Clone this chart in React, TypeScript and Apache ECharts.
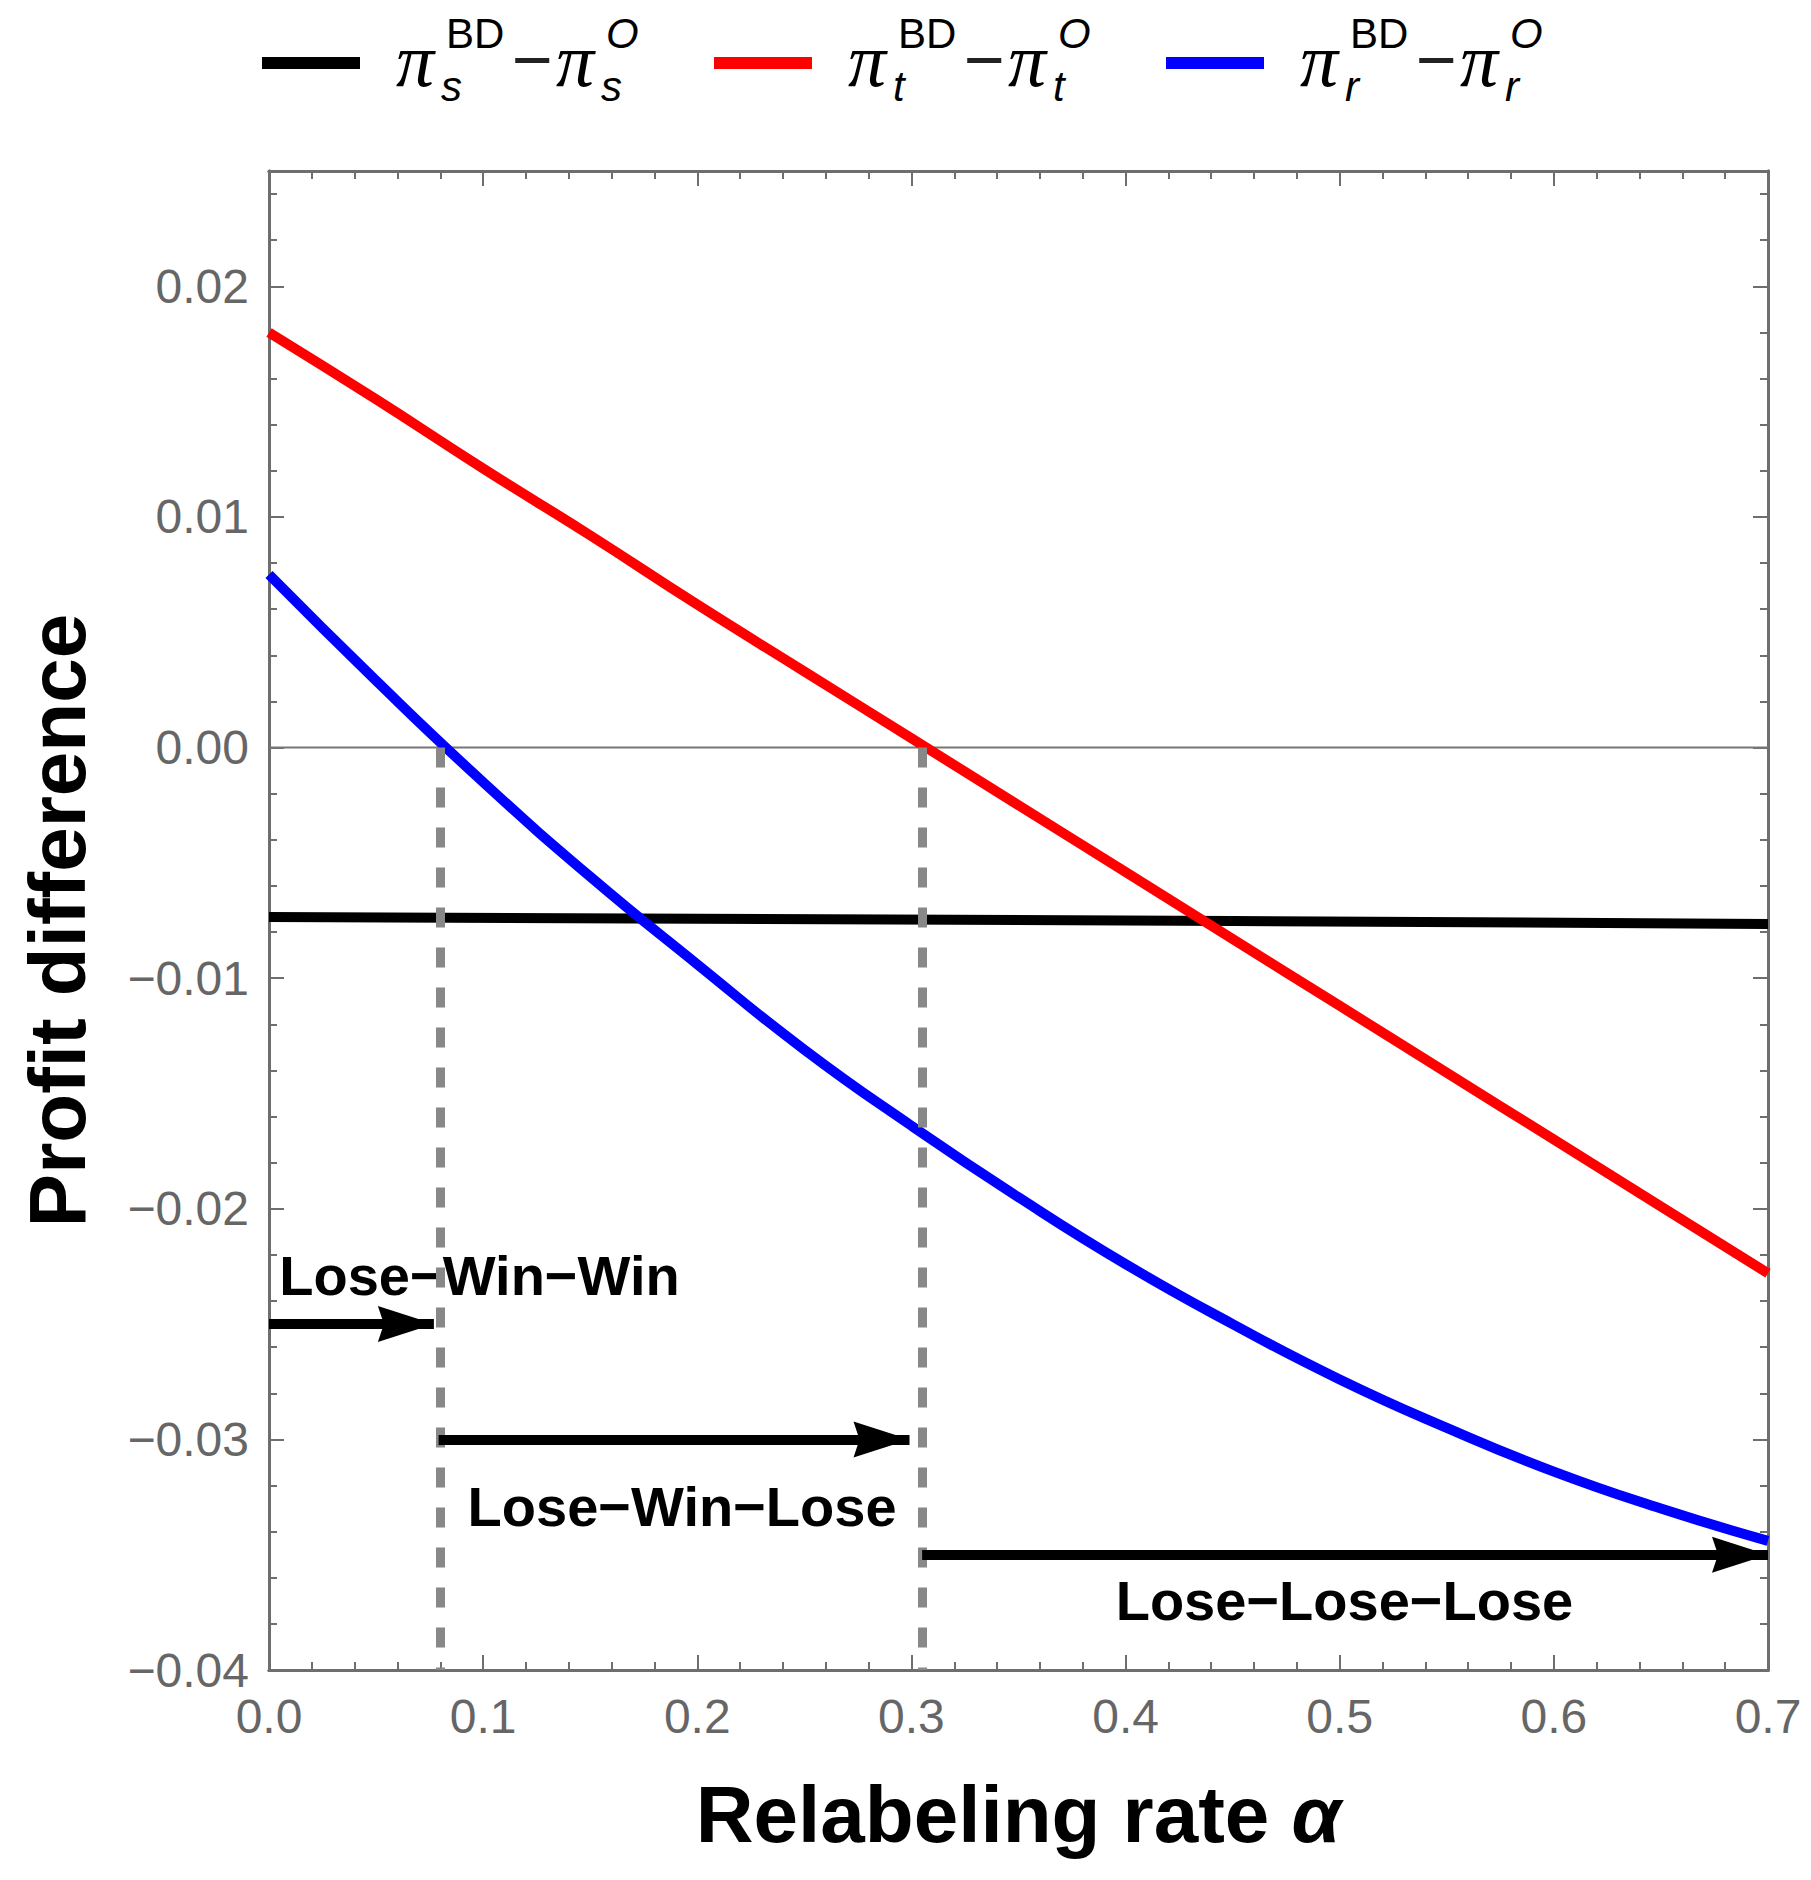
import React, { useEffect, useRef } from "react";
import * as echarts from "echarts";

// ---- data ----
const alphaGrid = [0, 0.05, 0.1, 0.15, 0.2, 0.25, 0.3, 0.35, 0.4, 0.45, 0.5, 0.55, 0.6, 0.65, 0.7];
const thirdPartyDiff = [0.018, 0.0151, 0.0121, 0.0092, 0.0062, 0.0033, 0.0004, -0.0025, -0.0054, -0.0083, -0.0112, -0.0141, -0.017, -0.0199, -0.0228];
const retailerDiff = [0.0075, 0.0029, -0.0015, -0.0056, -0.0094, -0.0131, -0.0164, -0.0195, -0.0224, -0.025, -0.0274, -0.0295, -0.0314, -0.033, -0.0344];
const supplierAlpha = [0, 0.2, 0.45, 0.7];
const supplierDiff = [-0.00735, -0.00742, -0.00752, -0.00765];

const thresholds = [0.08, 0.305];
const arrowStartX = [0, 0.0792, 0.305];
const arrowEndX = [0.077, 0.2991, 0.7];
const arrowY = [-0.025, -0.03, -0.035];
const annotationLabels = ["Lose\u2212Win\u2212Win", "Lose\u2212Win\u2212Lose", "Lose\u2212Lose\u2212Lose"];
const annotationX = [0.0983, 0.1929, 0.5022];
const annotationY = [-0.0229, -0.0329, -0.037];

const legendColors = ["#000000", "#ff0000", "#0000ff"];
const legendSubs = ["s", "t", "r"];

const xMin = 0, xMax = 0.7, xStep = 0.1, xMinorStep = 0.02;
const yMin = -0.04, yMax = 0.025, yStep = 0.01, yMinorStep = 0.002;

const SANS = "'Liberation Sans', Arial, sans-serif";
const SERIF = "'Liberation Serif', 'Times New Roman', serif";
const FRAME = "#6e6e6e";
const ARROW_HEAD = "path://M18,0 L36,56 L18,50 L0,56 Z";

function legendGraphic() {
  const els: any[] = [];
  legendColors.forEach((c, i) => {
    const x0 = 262 + i * 452;
    els.push({ type: "rect", shape: { x: x0, y: 57, width: 98, height: 12 }, style: { fill: c } });
    const addPi = (dx: number, sup: string) => {
      els.push({ type: "text", x: x0 + dx, y: 60, style: { text: "\u03c0", font: `italic 76px ${SERIF}`, fill: "#000", verticalAlign: "middle", align: "left" } });
      els.push({ type: "text", x: x0 + dx + 45, y: 86, style: { text: legendSubs[i], font: `italic 42px ${SANS}`, fill: "#000", verticalAlign: "middle", align: "left" } });
      els.push({ type: "text", x: x0 + dx + 50, y: 33, style: { text: sup, font: `${sup === "O" ? "italic " : ""}42px ${SANS}`, fill: "#000", verticalAlign: "middle", align: "left" } });
    };
    addPi(134, "BD");
    els.push({ type: "text", x: x0 + 250, y: 60, style: { text: "\u2212", font: `70px ${SANS}`, fill: "#222", verticalAlign: "middle", align: "left" } });
    addPi(294, "O");
  });
  return els;
}

const lineStyleFrame = { color: FRAME, width: 3 };

function makeX(position: string, labels: boolean, minor: boolean) {
  return {
    type: "value", position, min: xMin, max: xMax, interval: minor ? xMinorStep : xStep,
    axisLine: { show: true, onZero: false, lineStyle: lineStyleFrame },
    axisTick: { show: true, inside: true, length: minor ? 8 : 15, lineStyle: { color: FRAME, width: 2 } },
    axisLabel: labels
      ? { show: true, margin: 22, fontSize: 48, color: "#666", fontFamily: SANS, formatter: (v: number) => v.toFixed(1) }
      : { show: false },
    splitLine: { show: false },
    ...(labels
      ? {
          name: "Relabeling rate {a|\u03b1}", nameLocation: "middle", nameGap: 104,
          nameTextStyle: {
            fontSize: 80, fontWeight: "bold", color: "#000", fontFamily: SANS,
            rich: { a: { fontSize: 80, fontWeight: "bold", fontStyle: "italic", color: "#000", fontFamily: SANS } },
          },
        }
      : {}),
  };
}

function makeY(position: string, labels: boolean, minor: boolean) {
  return {
    type: "value", position, min: yMin, max: yMax, interval: minor ? yMinorStep : yStep,
    axisLine: { show: true, onZero: false, lineStyle: lineStyleFrame },
    axisTick: { show: true, inside: true, length: minor ? 8 : 15, lineStyle: { color: FRAME, width: 2 } },
    axisLabel: labels
      ? {
          show: true, margin: 20, fontSize: 48, color: "#666", fontFamily: SANS, showMaxLabel: false,
          formatter: (v: number) => v.toFixed(2).replace("-", "\u2212"),
        }
      : { show: false },
    splitLine: { show: false },
    ...(labels
      ? {
          name: "Profit difference", nameLocation: "middle", nameGap: 172,
          nameTextStyle: { fontSize: 80, fontWeight: "bold", color: "#000", fontFamily: SANS },
        }
      : {}),
  };
}

export default function App() {
  const ref = useRef<HTMLDivElement>(null);
  useEffect(() => {
    if (!ref.current) return;
    const chart = echarts.init(ref.current, null, { renderer: "svg" });
    const arrowLines = arrowStartX.map((sx, i) => [
      { coord: [sx, arrowY[i]], symbol: "none" },
      { coord: [arrowEndX[i], arrowY[i]], symbol: ARROW_HEAD, symbolSize: [36, 56], symbolOffset: [0, 28] },
    ]);
    const dashLines = thresholds.map((t) => [
      { coord: [t, 0], symbol: "none", lineStyle: { color: "#888888", width: 9, type: [20, 20] } },
      { coord: [t, yMin], symbol: "none" },
    ]);
    chart.setOption({
      animation: false,
      backgroundColor: "#ffffff",
      grid: { left: 269, top: 171, width: 1499, height: 1499 },
      xAxis: [makeX("bottom", true, false), makeX("bottom", false, true), makeX("top", false, false), makeX("top", false, true)],
      yAxis: [makeY("left", true, false), makeY("left", false, true), makeY("right", false, false), makeY("right", false, true)],
      graphic: legendGraphic(),
      series: [
        {
          name: "zero", type: "line", data: [[xMin, 0], [xMax, 0]], symbol: "none", silent: true,
          lineStyle: { color: "#777", width: 2 },
        },
        {
          name: "supplier", type: "line", data: supplierAlpha.map((a, i) => [a, supplierDiff[i]]), symbol: "none",
          lineStyle: { color: "#000", width: 10 }, silent: true,
        },
        {
          name: "third party", type: "line", data: alphaGrid.map((a, i) => [a, thirdPartyDiff[i]]), symbol: "none", smooth: true,
          lineStyle: { color: "#ff0000", width: 10 }, silent: true,
        },
        {
          name: "retailer", type: "line", data: alphaGrid.map((a, i) => [a, retailerDiff[i]]), symbol: "none", smooth: true,
          lineStyle: { color: "#0000ff", width: 10 }, silent: true,
        },
        {
          name: "annotations", type: "scatter", symbolSize: 0, silent: true,
          itemStyle: { opacity: 1 },
          data: annotationLabels.map((t, i) => ({ name: t, value: [annotationX[i], annotationY[i]] })),
          label: { show: true, position: "inside", formatter: "{b}", fontSize: 56, fontWeight: "bold", color: "#000", opacity: 1, fontFamily: SANS },
          markLine: {
            silent: true, animation: false, label: { show: false },
            lineStyle: { color: "#000", width: 10, type: "solid", opacity: 1 },
            data: [...dashLines, ...arrowLines],
          },
        },
      ],
    });
    return () => chart.dispose();
  }, []);
  return <div ref={ref} style={{ position: "absolute", left: 0, top: 0, width: 1811, height: 1880 }} />;
}
